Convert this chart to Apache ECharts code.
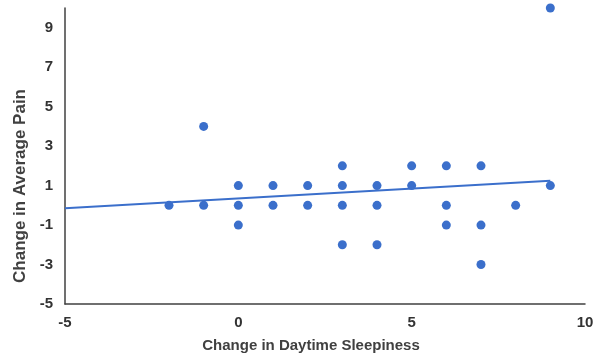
<!DOCTYPE html>
<html>
<head>
<meta charset="utf-8">
<script src="https://cdn.jsdelivr.net/npm/echarts@6/dist/echarts.min.js"></script>
<style>html,body{margin:0;padding:0;background:#fff}#c{width:609px;height:358px}</style>
</head>
<body>
<div id="c"></div>
<script>
const sleepinessX = [-2, -1, -1, 0, 0, 0, 1, 1, 2, 2, 3, 3, 3, 3, 4, 4, 4, 5, 5, 6, 6, 6, 7, 7, 7, 8, 9, 9];
const painY       = [ 0,  4,  0, 1, 0, -1, 1, 0, 1, 0, 2, 1, 0, -2, 1, 0, -2, 2, 1, 2, 0, -1, 2, -1, -3, 0, 10, 1];
const trendX = [-5, 9];
const trendY = [-0.15, 1.25];
const xTicks = [-5, 0, 5, 10];
const yTicks = [-5, -3, -1, 1, 3, 5, 7, 9];

const chart = echarts.init(document.getElementById('c'), null, {renderer: 'canvas'});
const labelStyle = {color: '#333333', fontFamily: 'Liberation Sans, Arial, sans-serif', fontWeight: 'bold', fontSize: 15};
chart.setOption({
  animation: false,
  grid: {left: 65, right: 24, top: 8, bottom: 53},
  xAxis: {
    type: 'value', min: -5, max: 10, interval: 5,
    axisLine: {show: true, onZero: false, lineStyle: {color: '#404040', width: 1.5}},
    axisTick: {show: false},
    splitLine: {show: false},
    axisLabel: Object.assign({margin: 11, formatter: v => xTicks.includes(v) ? String(v) : ''}, labelStyle),
    name: 'Change in Daytime Sleepiness', nameLocation: 'middle', nameGap: 34,
    nameTextStyle: Object.assign({}, labelStyle, {fontSize: 15, color: '#404040', padding: [0, 28, 0, 0]})
  },
  yAxis: {
    type: 'value', min: -5, max: 10, interval: 2,
    axisLine: {show: true, onZero: false, lineStyle: {color: '#404040', width: 1.5}},
    axisTick: {show: false},
    splitLine: {show: false},
    axisLabel: Object.assign({margin: 12, formatter: v => yTicks.includes(v) ? String(v) : ''}, labelStyle),
    name: 'Change in Average Pain', nameLocation: 'middle', nameGap: 30, nameRotate: 90,
    nameTextStyle: Object.assign({}, labelStyle, {fontSize: 17, color: '#404040', padding: [0, 60, 0, 0]})
  },
  series: [
    {
      type: 'line',
      data: trendX.map((x, i) => [x, trendY[i]]),
      symbol: 'none',
      lineStyle: {color: '#3B6FCB', width: 2},
      z: 1
    },
    {
      type: 'scatter',
      data: sleepinessX.map((x, i) => [x, painY[i]]),
      symbolSize: 9,
      itemStyle: {color: '#3B6FCB', opacity: 1},
      z: 2
    }
  ]
});
</script>
</body>
</html>
